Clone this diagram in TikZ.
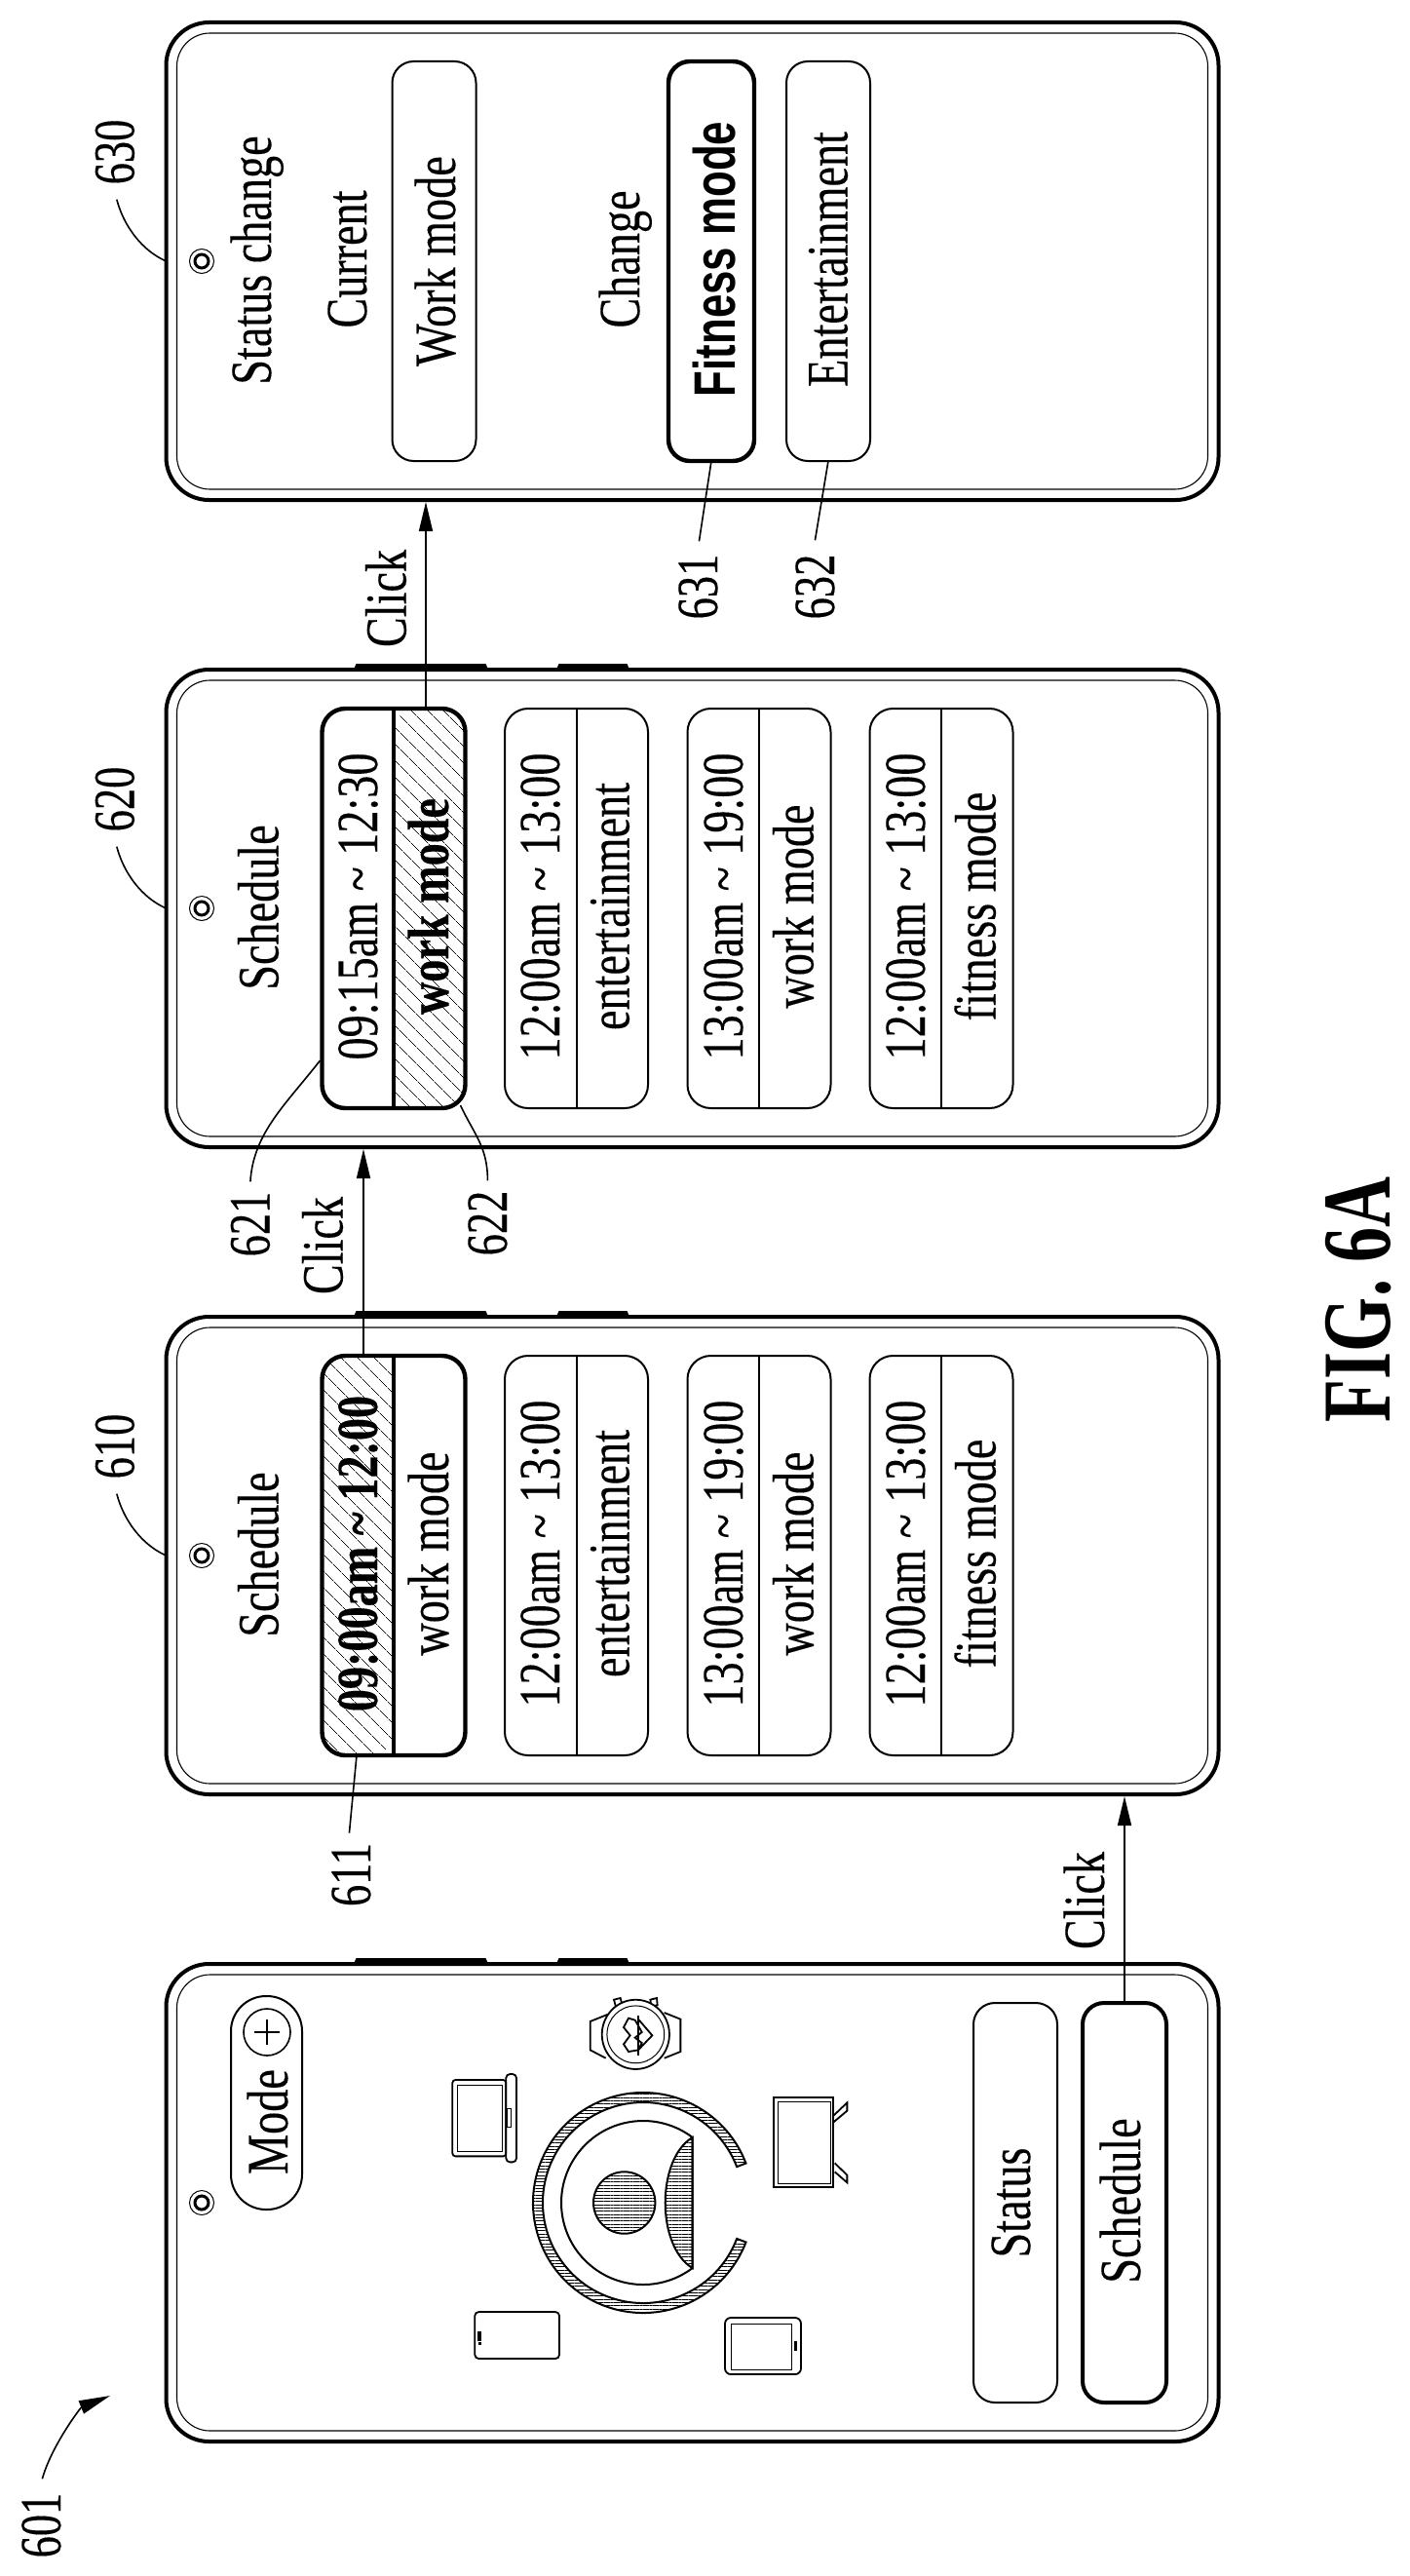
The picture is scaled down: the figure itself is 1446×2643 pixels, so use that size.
\documentclass[tikz,border=0pt]{standalone}
\usepackage{fontspec}
\usetikzlibrary{arrows.meta, positioning, calc, patterns.meta}
\setmainfont[FakeStretch=0.77, FakeBold=0.2]{Liberation Serif}
\newfontfamily\numfont[FakeStretch=0.74, FakeBold=0.2]{Liberation Serif}
\newfontfamily\fitfont[FakeStretch=0.73]{Liberation Sans}
\newfontfamily\figfont[FakeStretch=0.72]{Liberation Serif}
\newcommand{\txtsize}{\fontsize{30}{32}\selectfont}
\tikzset{
    phone/.style={rectangle, rounded corners=22pt, minimum width=540pt, minimum height=245pt, inner sep=0pt, outer sep=0pt, draw=black, line width=2pt},
    phoneinner/.style={rectangle, rounded corners=17pt, minimum width=529pt, minimum height=234pt, inner sep=0pt, outer sep=0pt, draw=black, line width=0.55pt},
    rowbox/.style={rectangle, rounded corners=12pt, minimum width=73.5pt, minimum height=205pt, inner sep=0pt, outer sep=0pt, draw=black, line width=1pt},
    modebox/.style={rectangle, rounded corners=11pt, minimum width=43pt, minimum height=205pt, inner sep=0pt, outer sep=0pt, draw=black, line width=1pt},
    rottext/.style={rotate=90, anchor=base, inner sep=0pt, font=\txtsize},
    numtext/.style={rotate=90, anchor=base, inner sep=0pt, font=\txtsize\numfont},
    leader/.style={line width=0.8pt},
    clickarrow/.style={-{Stealth[length=15pt, width=7pt, inset=0pt]}, line width=0.8pt, shorten >=1pt},
    hatchfill/.style={pattern={Lines[angle=-45, distance=6.5pt, line width=0.35pt]}},
    hatchleft/.style={path picture={\fill[hatchfill] (path picture bounding box.north west) rectangle (path picture bounding box.south);}},
    hatchright/.style={path picture={\fill[hatchfill] (path picture bounding box.north) rectangle (path picture bounding box.south east);}},
    hlines/.style={draw=black, line width=1pt, pattern={Lines[angle=0, distance=1.67pt, line width=0.5pt]}},
    icon/.style={draw=black, line width=0.9pt},
    iconthin/.style={draw=black, line width=0.5pt},
}
\begin{document}
\begin{tikzpicture}[x=0.5pt, y=-0.5pt, node distance=87pt]
\useasboundingbox (0,0) rectangle (1446,2643);

% Phones, bottom to top
\node[phone] (p601) at (710.5,2260) {};
\node[phone, above=of p601] (p610) {};
\node[phone, above=of p610] (p620) {};
\node[phone, above=of p620] (p630) {};

\foreach \ph in {p601,p610,p620,p630}{
    \node[phoneinner] at (\ph.center) {};
    \node[circle, draw, line width=0.5pt, minimum size=12.5pt, inner sep=0pt] at ($(\ph.west)+(36.5,0)$) {};
    \node[circle, draw, line width=1.5pt, minimum size=7pt, inner sep=0pt] at ($(\ph.west)+(36.5,0)$) {};
}
% Side keys (not on the last phone)
\foreach \ph in {p601,p610,p620}{
    \fill ($(\ph.north west)+(192,1)$) -- ($(\ph.north west)+(195,-6)$) -- ($(\ph.north west)+(328,-6)$) -- ($(\ph.north west)+(331,1)$) -- cycle;
    \fill ($(\ph.north west)+(400,1)$) -- ($(\ph.north west)+(403,-6)$) -- ($(\ph.north west)+(473,-6)$) -- ($(\ph.north west)+(476,1)$) -- cycle;
}

% Phone 601: home screen
\node[rectangle, rounded corners=18pt, minimum width=36.5pt, minimum height=109.5pt, inner sep=0pt, draw, line width=1pt] (modepill) at (273.5,2157.5) {};
\node[rottext] (modetxt) at (295,2177) {Mode};
\node[circle, draw, line width=0.8pt, minimum size=24pt, inner sep=0pt] (plus) at (274,2085) {};
\draw[line width=0.8pt] ($(plus)+(-13,0)$) -- ($(plus)+(13,0)$);
\draw[line width=0.8pt] ($(plus)+(0,-13)$) -- ($(plus)+(0,13)$);

\node[modebox] (status) at (1042,2260) {};
\node[modebox, line width=2pt] (sched) at (1154,2260) {};
\node[rottext] (statustxt) at (1057,2260) {Status};
\node[rottext] (schedtxt) at (1170,2258) {Schedule};

% Cleaner in the middle
\coordinate (robot) at (660,2260);
\begin{scope}[shift={(robot)}, x=1pt, y=1pt]
\draw[hlines] (21:56.5pt) arc[start angle=21, end angle=339, radius=56.5pt] -- (339:51.5pt) arc[start angle=339, end angle=21, radius=51.5pt] -- cycle;
\draw[line width=1pt] (53:42pt) arc[start angle=53, end angle=307, radius=42pt] -- cycle;
\draw[hlines] (25.35pt,33.5pt) .. controls (6.7pt,22.5pt) and (6.7pt,-22.5pt) .. (25.35pt,-33.5pt) -- cycle;
\draw[hlines] (-9.65pt,0) circle[radius=15.85pt];
\end{scope}

% Devices round the cleaner
\begin{scope}[shift={(210pt,-1000pt)}, x=0.16667pt, y=-0.16667pt]
% watch
\draw[icon] (612,200) -- (557,222) -- (557,310) -- (605,335);
\draw[icon] (785,195) -- (835,215) -- (835,315) -- (785,335);
\draw[icon] (630,155) -- (650,150) -- (656,172) -- (636,177) -- cycle;
\draw[icon] (742,155) -- (762,150) -- (764,172) -- (745,175) -- cycle;
\draw[icon, fill=white] (697,262) ellipse[x radius=17.3pt, y radius=17.8pt];
\draw[iconthin] (697,262) ellipse[x radius=14.7pt, y radius=14.7pt];
\draw[icon] (705,203) -- (705,328);
\draw[icon] (705,215) -- (748,265) -- (705,310) -- (675,315) -- (660,292) -- (680,265) -- (660,240) -- (675,212) -- (695,218) -- (705,235) -- (716,255) -- (695,272) -- (716,288) -- (705,310);
% laptop
\draw[icon, rounded corners=1.5pt] (133,402) rectangle (298,637);
\draw[iconthin] (148,418) rectangle (287,622);
\draw[icon, rounded corners=2pt] (298,384) rectangle (330,655);
\draw[iconthin] (300,490) rectangle (314,546);
% tv
\draw[icon] (1122,456) rectangle (1306,732);
\draw[iconthin] (1136,470) rectangle (1296,722);
\draw[icon] (1306,512) -- (1348,472) -- (1348,497) -- (1306,532);
\draw[icon] (1310,658) -- (1348,695) -- (1348,718) -- (1310,685);
% phone
\draw[icon, rounded corners=2pt] (202,1116) rectangle (462,1260);
\fill (211,1175) rectangle (222,1205);
\fill (214,1210) rectangle (221,1217);
% tablet
\draw[icon, rounded corners=3pt] (972,1134) rectangle (1206,1308);
\draw[iconthin] (990,1153) rectangle (1178,1295);
\fill (1185,1207) rectangle (1194,1235);
\end{scope}

% Phone 610 and 620: schedule lists
\foreach \ph in {p610,p620}{
    \node[rottext] at ($(\ph.center)+(-425,-1)$) {Schedule};
    \foreach \rn/\rx/\tb/\mb/\tm/\md in {2/-119/-136.5/-65/12:00am \textasciitilde{} 13:00/entertainment,
                                         3/68.5/51.5/124/13:00am \textasciitilde{} 19:00/work mode,
                                         4/255.5/238.5/311/12:00am \textasciitilde{} 13:00/fitness mode}{
        \node[rowbox] (\ph-r\rn) at ($(\ph.center)+(\rx,0)$) {};
        \draw[line width=1pt] (\ph-r\rn.north) -- (\ph-r\rn.south);
        \node[rottext] at ($(\ph.center)+(\tb,-2)$) {\tm};
        \node[rottext] at ($(\ph.center)+(\mb,-2)$) {\md};
    }
}

\node[rowbox, line width=2.2pt, hatchleft] (p610-r1) at ($(p610.center)+(-306.5,0)$) {};
\draw[line width=2pt] (p610-r1.north) -- (p610-r1.south);
\node[rottext] at ($(p610.center)+(-323.5,-2)$) {\bfseries 09:00am \textasciitilde{} 12:00};
\node[rottext] at ($(p610.center)+(-250.5,-2)$) {work mode};

\node[rowbox, line width=2.2pt, hatchright] (p620-r1) at ($(p620.center)+(-306.5,0)$) {};
\draw[line width=2pt] (p620-r1.north) -- (p620-r1.south);
\node[rottext] at ($(p620.center)+(-323.5,-2)$) {09:15am \textasciitilde{} 12:30};
\node[rottext] at ($(p620.center)+(-250.5,-2)$) {\bfseries work mode};

% Phone 630: status change
\node[rottext] (stattitle) at ($(p630.center)+(-432.5,-1)$) {Status change};
\node[rottext] (currtxt) at ($(p630.center)+(-334.5,-2)$) {Current};
\node[modebox] (workbtn) at ($(p630.center)+(-265,0)$) {};
\node[rottext] at ($(p630.center)+(-243.5,0)$) {Work mode};
\node[rottext] (chgtxt) at ($(p630.center)+(-54.5,-2)$) {Change};
\node[modebox, line width=2.2pt, minimum width=44pt] (fitbtn) at ($(p630.center)+(19.5,0)$) {};
\node[rottext, font=\txtsize\fitfont\bfseries] at ($(p630.center)+(44,-2)$) {Fitness mode};
\node[modebox] (entbtn) at ($(p630.center)+(139.5,0)$) {};
\node[rottext] at ($(p630.center)+(159,-2)$) {Entertainment};

% Click arrows
\draw[clickarrow] (sched.north) -- (sched.north |- p610.south);
\node[rottext] (click1) at (1133,1950) {Click};
\coordinate (c610) at ($(p610-r1.north)+(-31,0)$);
\draw[clickarrow] (c610) -- (c610 |- p620.south);
\node[rottext] (click2) at (351.5,1278) {Click};
\coordinate (c620) at ($(p620-r1.north)+(33,0)$);
\draw[clickarrow] (c620) -- (c620 |- p630.south);
\node[rottext] (click3) at (416.5,614) {Click};

% Reference numerals
\node[numtext] (l601) at (62,2591) {601};
\coordinate (t601) at (113,2458);
\draw[leader, -{Stealth[length=16pt, width=7pt, inset=0pt]}] ($(l601.east)+(1,-14)$) .. controls +(10,-35) and +(-30,12) .. (t601);

\node[numtext] (l610) at (137.5,1484) {610};
\draw[leader] ($(l610.west)+(2,15)$) .. controls +(7,27) and +(-25,-11) .. (p610.west);
\node[numtext] (l620) at (137.5,820) {620};
\draw[leader] ($(l620.west)+(2,15)$) .. controls +(7,27) and +(-25,-11) .. (p620.west);
\node[numtext] (l630) at (137.5,156) {630};
\draw[leader] ($(l630.west)+(2,15)$) .. controls +(7,27) and +(-25,-11) .. (p630.west);

\node[numtext] (l611) at (380,1923.5) {611};
\draw[leader] ($(p610-r1.south)+(-38,0)$) -- ($(l611.east)+(-2,-10)$);
\node[numtext] (l621) at (276.5,1256) {621};
\draw[leader] ($(p620-r1.west)+(-2,156)$) .. controls +(-35,45) and +(3,-50) .. ($(l621.east)+(0,-10)$);
\node[numtext] (l622) at (520,1255) {622};
\draw[leader] ($(p620-r1.south east)+(-5,-3)$) .. controls +(14,30) and +(0,-35) .. ($(l622.east)+(0,-10)$);
\node[numtext] (l631) at (736,602) {631};
\draw[leader] (fitbtn.south) -- ($(l631.east)+(1,-13)$);
\node[numtext] (l632) at (856,602) {632};
\draw[leader] (entbtn.south) -- ($(l632.east)+(0,-14)$);

% Title
\node[rotate=90, anchor=base, inner sep=0pt, font=\fontsize{50}{52}\selectfont\figfont\bfseries] (fig) at (1426,1333) {FIG. 6A};

\end{tikzpicture}
\end{document}
